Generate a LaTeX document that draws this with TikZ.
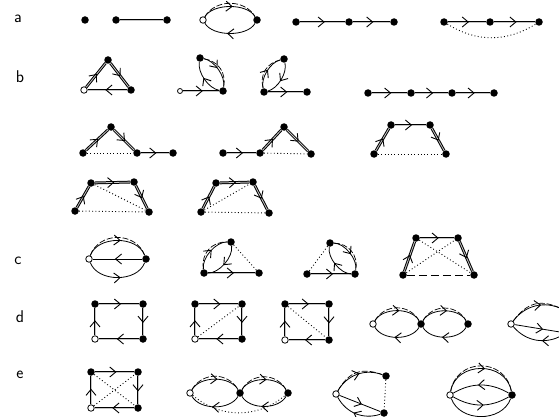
\documentclass[tikz,border=0pt]{standalone}
\usetikzlibrary{arrows.meta,decorations.markings}
\tikzset{
  vtx/.style={circle,fill=black,inner sep=0pt,minimum size=7.5pt},
  ovtx/.style={circle,draw=black,fill=white,line width=0.8pt,inner sep=0pt,minimum size=6.5pt},
  dbl/.style={line width=2.8pt,postaction={draw,line width=0.8pt,gray!45}},
  sgl/.style={line width=0.8pt},
  shad/.style={line width=0.7pt,dash pattern=on 6pt off 2pt},
  dotl/.style={line width=0.9pt,dash pattern=on 0.9pt off 2.4pt},
  fwd/.style={postaction={decorate,decoration={markings,
    mark=at position #1 with {\arrow[black,line width=0.9pt]{Straight Barb[length=6pt,width=10pt]}}}}},
  fwd/.default=0.55,
  lbl/.style={font=\sffamily\fontsize{17}{17}\selectfont}
}
\begin{document}
\begin{tikzpicture}[x=1pt,y=-1pt]
    \clip (0,0) rectangle (559,417);
    \node[lbl] (la) at (18,19) {a};
    \node[lbl] (lb) at (20,77) {b};
    \node[lbl] (lc) at (18,261) {c};
    \node[lbl] (ld) at (20,317) {d};
    \node[lbl] (le) at (20,375) {e};

    % row a
    \node[vtx] (a1) at (85,20) {};
    \node[vtx] (a2) at (116,20) {};
    \node[vtx] (a3) at (167,20) {};
    \draw[dbl] (a2) -- (a3);
    \node[ovtx] (a4) at (203,20) {};
    \node[vtx] (a5) at (257,20) {};
    \draw[sgl,fwd] (a4) to[bend left=60,looseness=0.8] (a5);
    \draw[shad] (a4) to[bend left=60,looseness=1.05] (a5);
    \draw[sgl,fwd] (a5) to[bend left=60,looseness=0.8] (a4);
    \node[vtx] (a6) at (296,22) {};
    \node[vtx] (a7) at (349,22) {};
    \node[vtx] (a8) at (394,22) {};
    \draw[dbl,fwd] (a6) -- (a7);
    \draw[dbl,fwd] (a7) -- (a8);
    \node[vtx] (a9) at (444,22) {};
    \node[vtx] (a10) at (490,22) {};
    \node[vtx] (a11) at (539,22) {};
    \draw[dbl,fwd] (a9) -- (a10);
    \draw[dbl,fwd] (a10) -- (a11);
    \draw[dotl] (a9) to[bend right=32] (a11);

    % row b
    \node[ovtx] (b1) at (84,90) {};
    \node[vtx] (b2) at (108,60) {};
    \node[vtx] (b3) at (131,90) {};
    \draw[dbl,fwd] (b1) -- (b2);
    \draw[dbl,fwd] (b2) -- (b3);
    \draw[dbl,fwd] (b3) -- (b1);
    \node[ovtx,minimum size=5pt] (b4) at (180,91) {};
    \node[vtx] (b5) at (223,91) {};
    \node[vtx] (b6) at (200,58) {};
    \draw[dbl,fwd] (b4) -- (b5);
    \draw[sgl,fwd=0.45] (b6) to[bend left=45,looseness=0.8] (b5);
    \draw[shad] (b6) to[bend left=45,looseness=1.1] (b5);
    \draw[sgl,fwd] (b5) to[bend left=45,looseness=0.8] (b6);
    \node[vtx] (b7) at (284,59) {};
    \node[vtx] (b8) at (264,92) {};
    \node[vtx] (b9) at (307,92) {};
    \draw[dbl,fwd] (b8) -- (b9);
    \draw[sgl,fwd] (b8) to[bend left=45,looseness=0.8] (b7);
    \draw[shad] (b8) to[bend left=45,looseness=1.1] (b7);
    \draw[sgl,fwd] (b7) to[bend left=45,looseness=0.8] (b8);
    \node[vtx] (b10) at (368,93) {};
    \node[vtx] (b11) at (411,93) {};
    \node[vtx] (b12) at (452,93) {};
    \node[vtx] (b13) at (494,93) {};
    \draw[dbl,fwd] (b10) -- (b11);
    \draw[dbl,fwd] (b11) -- (b12);
    \draw[dbl,fwd] (b12) -- (b13);

    \node[vtx] (b14) at (83,153) {};
    \node[vtx] (b15) at (111,127) {};
    \node[vtx] (b16) at (137,153) {};
    \node[vtx] (b17) at (173,153) {};
    \draw[dbl,fwd] (b14) -- (b15);
    \draw[dbl,fwd] (b15) -- (b16);
    \draw[dbl,fwd] (b16) -- (b17);
    \draw[dotl] (b14) -- (b16);
    \node[vtx] (b18) at (223,153) {};
    \node[vtx] (b19) at (260,153) {};
    \node[vtx] (b20) at (284,127) {};
    \node[vtx] (b21) at (311,154) {};
    \draw[dbl,fwd] (b18) -- (b19);
    \draw[dbl,fwd] (b19) -- (b20);
    \draw[dbl,fwd] (b20) -- (b21);
    \draw[dotl] (b19) -- (b21);
    \node[vtx] (b22) at (374,154) {};
    \node[vtx] (b23) at (391,125) {};
    \node[vtx] (b24) at (430,125) {};
    \node[vtx] (b25) at (446,154) {};
    \draw[dbl,fwd] (b22) -- (b23);
    \draw[dbl,fwd] (b23) -- (b24);
    \draw[dbl,fwd] (b24) -- (b25);
    \draw[dotl] (b22) -- (b25);

    \node[vtx] (b26) at (75,211) {};
    \node[vtx] (b27) at (91,183) {};
    \node[vtx] (b28) at (134,182) {};
    \node[vtx] (b29) at (149,212) {};
    \draw[dbl,fwd] (b26) -- (b27);
    \draw[dbl,fwd] (b27) -- (b28);
    \draw[dbl,fwd] (b28) -- (b29);
    \draw[dotl] (b26) -- (b29);
    \draw[dotl] (b27) -- (b29);
    \node[vtx] (b30) at (201,212) {};
    \node[vtx] (b31) at (216,183) {};
    \node[vtx] (b32) at (253,182) {};
    \node[vtx] (b33) at (269,213) {};
    \draw[dbl,fwd] (b30) -- (b31);
    \draw[dbl,fwd] (b31) -- (b32);
    \draw[dbl,fwd] (b32) -- (b33);
    \draw[dotl] (b30) -- (b33);
    \draw[dotl] (b30) -- (b32);

    % row c
    \node[ovtx] (c1) at (89,259) {};
    \node[vtx] (c2) at (146,259) {};
    \draw[sgl,fwd] (c1) to[bend left=70] (c2);
    \draw[shad] (c1) to[bend left=70,looseness=1.2] (c2);
    \draw[sgl,fwd] (c2) -- (c1);
    \draw[sgl,fwd] (c1) to[bend right=70] (c2);
    \node[vtx] (c3) at (231,242) {};
    \node[vtx] (c4) at (204,273) {};
    \node[vtx] (c5) at (259,273) {};
    \draw[dbl,fwd] (c4) -- (c5);
    \draw[sgl,fwd] (c4) to[bend left=50,looseness=0.8] (c3);
    \draw[shad] (c4) to[bend left=50,looseness=1.1] (c3);
    \draw[sgl,fwd] (c3) to[bend left=50,looseness=0.8] (c4);
    \draw[dotl] (c3) -- (c5);
    \node[vtx] (c6) at (330,243) {};
    \node[vtx] (c7) at (307,274) {};
    \node[vtx] (c8) at (355,274) {};
    \draw[dbl,fwd] (c7) -- (c8);
    \draw[sgl,fwd] (c6) to[bend left=50,looseness=0.8] (c8);
    \draw[shad] (c6) to[bend left=50,looseness=1.1] (c8);
    \draw[sgl,fwd] (c8) to[bend left=50,looseness=0.8] (c6);
    \draw[dotl] (c7) -- (c6);
    \node[vtx] (c9) at (416,238) {};
    \node[vtx] (c10) at (458,238) {};
    \node[vtx] (c11) at (403,275) {};
    \node[vtx] (c12) at (474,275) {};
    \draw[dbl,fwd] (c11) -- (c9);
    \draw[dbl,fwd] (c9) -- (c10);
    \draw[dbl,fwd] (c10) -- (c12);
    \draw[line width=0.9pt,dash pattern=on 8pt off 4pt] (c11) -- (c12);
    \draw[dotl] (c9) -- (c12);
    \draw[dotl] (c11) -- (c10);

    % row d
    \node[vtx] (d1) at (95,304) {};
    \node[vtx] (d2) at (143,304) {};
    \node[ovtx] (d3) at (95,339) {};
    \node[vtx] (d4) at (143,339) {};
    \draw[dbl,fwd] (d3) -- (d1);
    \draw[dbl,fwd] (d1) -- (d2);
    \draw[dbl,fwd] (d2) -- (d4);
    \draw[dbl,fwd] (d4) -- (d3);
    \node[vtx] (d5) at (195,304) {};
    \node[vtx] (d6) at (242,304) {};
    \node[ovtx] (d7) at (195,339) {};
    \node[vtx] (d8) at (242,339) {};
    \draw[dbl,fwd] (d7) -- (d5);
    \draw[dbl,fwd] (d5) -- (d6);
    \draw[dbl,fwd] (d6) -- (d8);
    \draw[dbl,fwd] (d8) -- (d7);
    \draw[dotl] (d7) -- (d6);
    \node[vtx] (d9) at (285,304) {};
    \node[vtx] (d10) at (329,304) {};
    \node[ovtx] (d11) at (285,340) {};
    \node[vtx] (d12) at (329,340) {};
    \draw[dbl,fwd] (d11) -- (d9);
    \draw[dbl,fwd] (d9) -- (d10);
    \draw[dbl,fwd] (d10) -- (d12);
    \draw[dbl,fwd] (d12) -- (d11);
    \draw[dotl] (d9) -- (d12);
    \node[ovtx] (d13) at (373,324) {};
    \node[vtx] (d14) at (421,324) {};
    \node[vtx] (d15) at (468,324) {};
    \draw[sgl,fwd] (d13) to[bend left=60,looseness=0.9] (d14);
    \draw[shad] (d13) to[bend left=60,looseness=1.15] (d14);
    \draw[sgl,fwd] (d14) to[bend left=60,looseness=0.9] (d13);
    \draw[sgl,fwd] (d14) to[bend left=60,looseness=0.9] (d15);
    \draw[shad] (d14) to[bend left=60,looseness=1.15] (d15);
    \draw[sgl,fwd] (d15) to[bend left=60,looseness=0.9] (d14);
    \node[ovtx] (d16) at (511,324) {};
    \node[vtx] (d17) at (566,311) {};
    \node[vtx] (d18) at (566,333) {};
    \draw[sgl,fwd=0.6] (d16) to[bend left=40] (d17);
    \draw[shad] (d16) to[bend left=40,looseness=1.2] (d17);
    \draw[sgl,fwd=0.6] (d16) -- (d18);
    \draw[sgl,fwd=0.4] (d18) to[bend left=40] (d16);

    % row e
    \node[vtx] (e1) at (91,372) {};
    \node[vtx] (e2) at (138,372) {};
    \node[ovtx] (e3) at (91,408) {};
    \node[vtx] (e4) at (138,408) {};
    \draw[dbl,fwd] (e3) -- (e1);
    \draw[dbl,fwd] (e1) -- (e2);
    \draw[dbl,fwd] (e2) -- (e4);
    \draw[dbl,fwd] (e4) -- (e3);
    \draw[dotl] (e1) -- (e4);
    \draw[dotl] (e3) -- (e2);
    \node[ovtx] (e5) at (190,393) {};
    \node[vtx] (e6) at (240,393) {};
    \node[vtx] (e7) at (288,393) {};
    \draw[sgl,fwd] (e5) to[bend left=60,looseness=0.9] (e6);
    \draw[shad] (e5) to[bend left=60,looseness=1.15] (e6);
    \draw[sgl,fwd] (e6) to[bend left=60,looseness=0.9] (e5);
    \draw[sgl,fwd] (e6) to[bend left=60,looseness=0.9] (e7);
    \draw[shad] (e6) to[bend left=60,looseness=1.15] (e7);
    \draw[sgl,fwd] (e7) to[bend left=60,looseness=0.9] (e6);
    \draw[dotl] (e5) to[bend right=40] (e7);
    \node[ovtx] (e8) at (336,394) {};
    \node[vtx] (e9) at (386,376) {};
    \node[vtx] (e10) at (384,413) {};
    \draw[sgl,fwd] (e8) to[bend left=40] (e9);
    \draw[shad] (e8) to[bend left=40,looseness=1.2] (e9);
    \draw[sgl,fwd] (e8) -- (e10);
    \draw[sgl,fwd] (e10) to[bend left=40] (e8);
    \draw[dotl] (e9) -- (e10);
    \node[ovtx] (e11) at (450,395) {};
    \node[vtx] (e12) at (512,395) {};
    \draw[sgl,fwd] (e11) to[bend left=80,looseness=1.3] (e12);
    \draw[shad] (e11) to[bend left=80,looseness=1.45] (e12);
    \draw[sgl,fwd] (e12) to[bend right=30] (e11);
    \draw[sgl,fwd] (e11) to[bend right=30] (e12);
    \draw[sgl] (e12) to[bend left=70,looseness=1.1] (e11);
\end{tikzpicture}
\end{document}
